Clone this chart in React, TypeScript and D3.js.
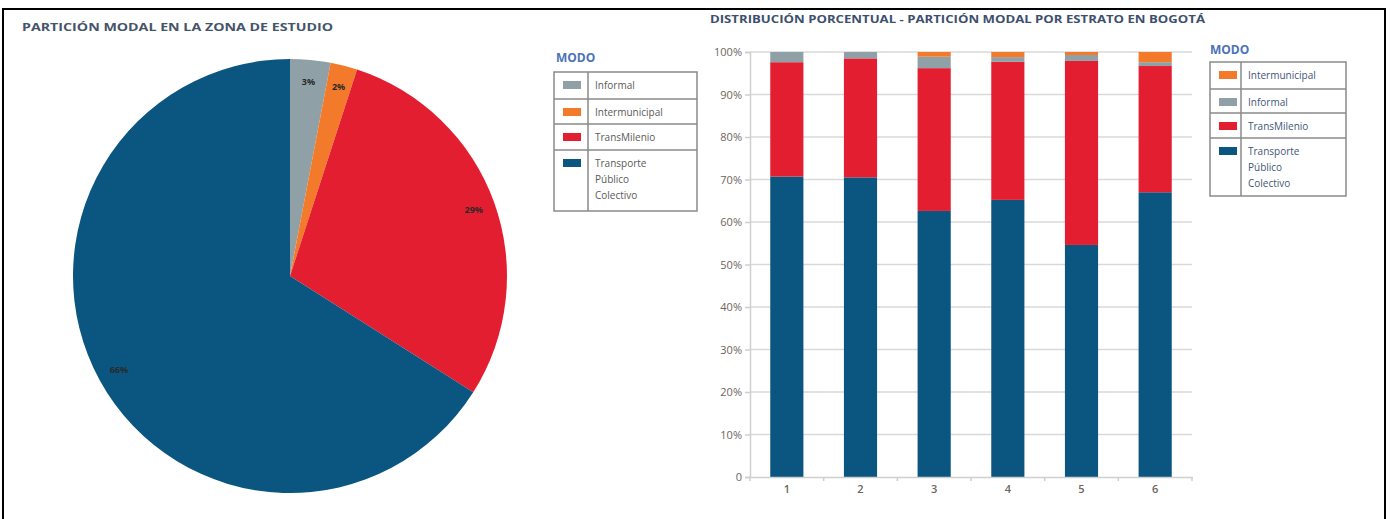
import { useEffect, useRef } from 'react';
import * as d3 from 'd3';

// pie: modal split in the study area
const pieModes = ['Informal', 'Intermunicipal', 'TransMilenio', 'Transporte Público Colectivo'];
const pieValues = [3, 2, 29, 66];
const pieLegendLabels = [['Informal'], ['Intermunicipal'], ['TransMilenio'], ['Transporte', 'Público', 'Colectivo']];

// stacked bars: modal split by estrato (bottom to top)
const estratos = ['1', '2', '3', '4', '5', '6'];
const tpc = [70.7, 70.5, 62.6, 65.2, 54.6, 67.0];
const transmilenio = [26.9, 28.0, 33.6, 32.5, 43.3, 29.7];
const informal = [2.4, 1.5, 2.7, 1.1, 1.4, 0.9];
const intermunicipal = [0, 0, 1.1, 1.2, 0.7, 2.4];
const yTicks = [0, 10, 20, 30, 40, 50, 60, 70, 80, 90, 100];
const barLegendLabels = [['Intermunicipal'], ['Informal'], ['TransMilenio'], ['Transporte', 'Público', 'Colectivo']];

const colors: Record<string, string> = {
  'Informal': '#8fa1a6',
  'Intermunicipal': '#f27a2a',
  'TransMilenio': '#e41e31',
  'Transporte Público Colectivo': '#0b5680',
};

const FONT = '"Open Sans", "DejaVu Sans", sans-serif';

export default function App() {
  const svgRef = useRef<SVGSVGElement>(null);

  useEffect(() => {
    if (!svgRef.current) return;
    const svg = d3.select(svgRef.current);
    svg.selectAll('*').remove();

    // frame
    svg.append('rect')
      .attr('x', 3).attr('y', 9)
      .attr('width', 1382).attr('height', 520)
      .attr('fill', 'none').attr('stroke', '#000').attr('stroke-width', 2);

    // ---------- pie ----------
    svg.append('text')
      .attr('x', 22).attr('y', 31)
      .attr('textLength', 311).attr('lengthAdjust', 'spacingAndGlyphs')
      .style('font-family', FONT).style('font-weight', 700).style('font-size', '11px')
      .style('fill', '#44546a')
      .text('PARTICIÓN MODAL EN LA ZONA DE ESTUDIO');

    const cx = 290, cy = 276, r = 217;
    const pieData = pieModes.map((m, i) => ({ mode: m, value: pieValues[i] }));
    const arcs = d3.pie<{ mode: string; value: number }>()
      .value(d => d.value)
      .sort(null)(pieData);
    const arc = d3.arc<d3.PieArcDatum<{ mode: string; value: number }>>()
      .innerRadius(0).outerRadius(r);
    const labelArc = d3.arc<d3.PieArcDatum<{ mode: string; value: number }>>()
      .innerRadius(r * 0.9).outerRadius(r * 0.9);

    const pg = svg.append('g').attr('transform', `translate(${cx},${cy})`);
    pg.selectAll('path.slice')
      .data(arcs)
      .enter().append('path')
      .attr('class', 'slice')
      .attr('d', arc)
      .attr('fill', d => colors[d.data.mode]);

    pg.selectAll('text.lbl')
      .data(arcs)
      .enter().append('text')
      .attr('class', 'lbl')
      .attr('transform', d => `translate(${labelArc.centroid(d)})`)
      .attr('text-anchor', 'middle')
      .attr('dy', '0.35em')
      .style('font-family', FONT).style('font-weight', 700).style('font-size', '9px')
      .style('fill', '#2a2a2a')
      .text(d => `${d.data.value}%`);

    // pie legend
    const drawLegend = (
      x: number, y: number, w: number, divX: number,
      rows: { mode: string; lines: string[]; h: number }[],
      textColor: string
    ) => {
      const lg = svg.append('g').attr('transform', `translate(${x},${y})`);
      const total = d3.sum(rows, d => d.h);
      lg.append('rect')
        .attr('width', w).attr('height', total)
        .attr('fill', '#fff').attr('stroke', '#8a8a8a').attr('stroke-width', 1.5);
      lg.append('line')
        .attr('x1', divX).attr('x2', divX).attr('y1', 0).attr('y2', total)
        .attr('stroke', '#8a8a8a').attr('stroke-width', 1.5);
      let yy = 0;
      rows.forEach((row, i) => {
        if (i > 0) {
          lg.append('line')
            .attr('x1', 0).attr('x2', w).attr('y1', yy).attr('y2', yy)
            .attr('stroke', '#8a8a8a').attr('stroke-width', 1.5);
        }
        lg.append('rect')
          .attr('x', 9).attr('y', yy + 9)
          .attr('width', 18).attr('height', 8)
          .attr('fill', colors[row.mode]);
        row.lines.forEach((t, j) => {
          lg.append('text')
            .attr('x', divX + 7).attr('y', yy + 17 + j * 16)
            .style('font-family', FONT).style('font-size', '10px')
            .style('fill', textColor)
            .text(t);
        });
        yy += row.h;
      });
    };

    svg.append('text')
      .attr('x', 556).attr('y', 62)
      .style('font-family', FONT).style('font-weight', 700).style('font-size', '12px')
      .style('fill', '#4b72b8')
      .text('MODO');
    drawLegend(554, 72, 143, 34,
      pieModes.map((m, i) => ({ mode: m, lines: pieLegendLabels[i], h: [27, 25, 26, 61][i] })),
      '#5a5a5a');

    // ---------- stacked bars ----------
    svg.append('text')
      .attr('x', 710).attr('y', 23)
      .attr('textLength', 495).attr('lengthAdjust', 'spacingAndGlyphs')
      .style('font-family', FONT).style('font-weight', 700).style('font-size', '11px')
      .style('fill', '#3d4f6e')
      .text('DISTRIBUCIÓN PORCENTUAL - PARTICIÓN MODAL POR ESTRATO EN BOGOTÁ');

    const left = 750, right = 1192, top = 52, bottom = 477;
    const x = d3.scaleBand().domain(estratos).range([left, right]).paddingInner(0.55).paddingOuter(0.275);
    const y = d3.scaleLinear().domain([0, 100]).range([bottom, top]);

    const g = svg.append('g');
    // gridlines
    g.selectAll('line.grid')
      .data(yTicks.filter(t => t > 0))
      .enter().append('line')
      .attr('class', 'grid')
      .attr('x1', left).attr('x2', right)
      .attr('y1', d => y(d)).attr('y2', d => y(d))
      .attr('stroke', '#d9d9d9').attr('stroke-width', 1.5);

    const rows = estratos.map((e, i) => ({
      estrato: e,
      'Transporte Público Colectivo': tpc[i],
      'TransMilenio': transmilenio[i],
      'Informal': informal[i],
      'Intermunicipal': intermunicipal[i],
    }));
    const keys = ['Transporte Público Colectivo', 'TransMilenio', 'Informal', 'Intermunicipal'];
    const series = d3.stack<any>().keys(keys)(rows);

    g.selectAll('g.series')
      .data(series)
      .enter().append('g')
      .attr('class', 'series')
      .attr('fill', d => colors[d.key])
      .selectAll('rect')
      .data(d => d)
      .enter().append('rect')
      .attr('x', d => x(d.data.estrato) as number)
      .attr('width', x.bandwidth())
      .attr('y', d => y(Math.min(100, d[1])))
      .attr('height', d => Math.max(0, y(d[0]) - y(Math.min(100, d[1]))));

    // axes
    const yAxis = g.append('g')
      .attr('transform', `translate(${left},0)`)
      .call(d3.axisLeft(y).tickValues(yTicks).tickSize(5).tickPadding(3)
        .tickFormat(d => (Number(d) === 0 ? '0' : `${d}%`)));
    yAxis.select('.domain').attr('stroke', '#cfcfcf').attr('stroke-width', 1.5);
    yAxis.selectAll('.tick line').attr('stroke', '#cfcfcf').attr('stroke-width', 1.5);
    yAxis.selectAll('.tick text')
      .style('font-family', FONT).style('font-size', '11px').style('fill', '#6e655e');

    const xAxis = g.append('g')
      .attr('transform', `translate(0,${bottom})`)
      .call(d3.axisBottom(x).tickSize(0).tickPadding(8));
    xAxis.select('.domain').attr('stroke', '#cfcfcf').attr('stroke-width', 1.5);
    xAxis.selectAll('.tick text')
      .style('font-family', FONT).style('font-size', '11px').style('font-weight', 600).style('fill', '#6e655e');
    // tick marks between categories
    const step = x.step();
    g.selectAll('line.xtick')
      .data(d3.range(estratos.length + 1))
      .enter().append('line')
      .attr('class', 'xtick')
      .attr('x1', i => left + i * step * ((right - left) / (step * estratos.length)))
      .attr('x2', i => left + i * step * ((right - left) / (step * estratos.length)))
      .attr('y1', bottom).attr('y2', bottom + 4)
      .attr('stroke', '#cfcfcf').attr('stroke-width', 1.5);

    // bar legend
    svg.append('text')
      .attr('x', 1210).attr('y', 54)
      .style('font-family', FONT).style('font-weight', 700).style('font-size', '12px')
      .style('fill', '#4b72b8')
      .text('MODO');
    const barLegendModes = ['Intermunicipal', 'Informal', 'TransMilenio', 'Transporte Público Colectivo'];
    drawLegend(1210, 62, 136, 31,
      barLegendModes.map((m, i) => ({ mode: m, lines: barLegendLabels[i], h: [27, 24, 25, 58][i] })),
      '#3f5777');
  }, []);

  return (
    <svg
      ref={svgRef}
      width={1390}
      height={519}
      style={{ position: 'absolute', left: 0, top: 0, background: '#fff' }}
    />
  );
}
